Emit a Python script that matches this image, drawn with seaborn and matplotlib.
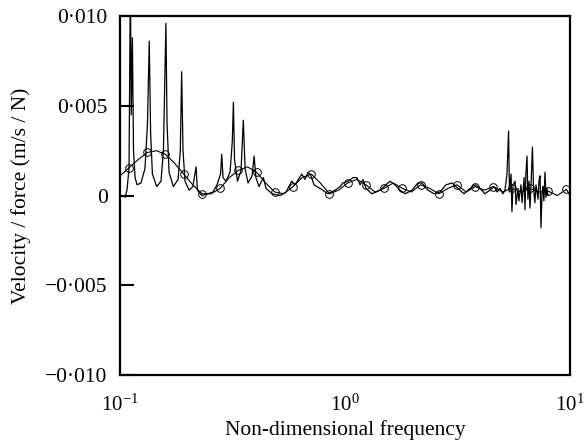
import numpy as np
import pandas as pd
import matplotlib
matplotlib.use("Agg")
import matplotlib.pyplot as plt
import seaborn as sns
from matplotlib.ticker import FixedLocator, FixedFormatter, LogLocator, NullLocator

# ---- measured response (log10 of non-dimensional frequency, velocity/force) ----
meas_logf = [
    -1.000, -0.987, -0.978, -0.969, -0.960, -0.954, -0.950, -0.945, -0.940, -0.933,
    -0.924, -0.907, -0.889, -0.878, -0.870, -0.864, -0.856, -0.837, -0.818, -0.807,
    -0.796, -0.791, -0.782, -0.763, -0.742, -0.732, -0.726, -0.720, -0.711, -0.693,
    -0.676, -0.662, -0.656, -0.636, -0.609, -0.587, -0.569, -0.553, -0.548, -0.542,
    -0.529, -0.511, -0.501, -0.496, -0.491, -0.478, -0.462, -0.452, -0.444, -0.431,
    -0.413, -0.404, -0.396, -0.382, -0.363, -0.351, -0.324, -0.289, -0.262, -0.237,
    -0.222, -0.192, -0.178, -0.164, -0.151, -0.138, -0.111, -0.076, -0.044, -0.022,
    -0.009, 0.013, 0.036, 0.053, 0.067, 0.080, 0.093, 0.120, 0.156, 0.182,
    0.200, 0.222, 0.244, 0.267, 0.298, 0.324, 0.342, 0.369, 0.396, 0.422,
    0.449, 0.476, 0.502, 0.529, 0.556, 0.578, 0.600, 0.622, 0.644, 0.662,
    0.676, 0.689, 0.702, 0.711, 0.720, 0.727, 0.731, 0.738, 0.742, 0.747,
    0.756, 0.760, 0.769, 0.773, 0.782, 0.787, 0.796, 0.800, 0.804, 0.809,
    0.813, 0.818, 0.822, 0.827, 0.833, 0.838, 0.844, 0.849, 0.858, 0.862,
    0.867, 0.871, 0.876, 0.880, 0.884, 0.889, 0.893, 0.898, 0.902,
]
meas_val = [
    0.0000, 0.0000, -0.0001, 0.0003, 0.0015, 0.0120, 0.0045, 0.0088, 0.0025, 0.0010,
    0.0006, 0.0007, 0.0015, 0.0040, 0.0086, 0.0035, 0.0012, 0.0005, 0.0008, 0.0025,
    0.0096, 0.0040, 0.0013, 0.0005, 0.0009, 0.0025, 0.0069, 0.0025, 0.0008, 0.0003,
    0.0005, 0.0016, 0.0003, 0.0000, 0.0001, 0.0002, 0.0006, 0.0012, 0.0023, 0.0010,
    0.0008, 0.0013, 0.0030, 0.0052, 0.0020, 0.0008, 0.0014, 0.0042, 0.0015, 0.0007,
    0.0011, 0.0022, 0.0010, 0.0005, 0.0010, 0.0004, 0.0001, 0.0000, 0.0002, 0.0008,
    0.0006, 0.0012, 0.0009, 0.0013, 0.0011, 0.0006, 0.0004, 0.0001, 0.0003, 0.0005,
    0.0007, 0.0008, 0.0010, 0.0010, 0.0006, 0.0009, 0.0004, 0.0001, 0.0003, 0.0006,
    0.0008, 0.0006, 0.0003, 0.0001, 0.0003, 0.0007, 0.0007, 0.0003, 0.0001, 0.0002,
    0.0006, 0.0007, 0.0004, 0.0001, 0.0004, 0.0006, 0.0004, 0.0001, 0.0003, 0.0005,
    0.0002, 0.0004, 0.0001, 0.0003, 0.0012, 0.0036, 0.0002, 0.0012, -0.0009, 0.0006,
    0.0008, -0.0005, 0.0004, -0.0003, 0.0006, -0.0004, 0.0010, -0.0008, 0.0012, 0.0022,
    -0.0002, 0.0008, -0.0007, 0.0006, 0.0027, 0.0004, -0.0004, 0.0006, -0.0002, 0.0008,
    0.0011, -0.0018, 0.0002, 0.0005, -0.0003, 0.0013, -0.0001, 0.0004, 0.0000,
]

# ---- model prediction (smooth curve with circle markers) ----
model_logf = [-1.0] + list(np.linspace(-0.96, 0.984, 49)) + [1.0]
model_val = [
    0.0011,
    0.00155, 0.0020, 0.0024, 0.0025, 0.0023, 0.0018, 0.0012, 0.0006, 0.0001, 0.0001,
    0.0004, 0.0010, 0.0014, 0.0016, 0.0013, 0.0007, 0.0002, 0.0001, 0.0005, 0.0010,
    0.0012, 0.0007, 0.0001, 0.0003, 0.0007, 0.0009, 0.0006, 0.0002, 0.0004, 0.0007,
    0.0004, 0.0002, 0.0006, 0.0004, 0.0001, 0.0004, 0.0006, 0.0002, 0.0005, 0.0003,
    0.0005, 0.0002, 0.0004, 0.0002, 0.0004, 0.0002, 0.00025, 0.0000, 0.00035,
    0.0000,
]

y_ticks = [-0.010, -0.005, 0.0, 0.005, 0.010]
y_tick_labels = ["\u22120\u00b7010", "\u22120\u00b7005", "0", "0\u00b7005", "0\u00b7010"]

sns.set_theme(style="ticks")
plt.rcParams["font.family"] = ["Liberation Serif", "DejaVu Serif"]
plt.rcParams["mathtext.fontset"] = "stix"
plt.rcParams["text.color"] = "black"
plt.rcParams["axes.labelcolor"] = "black"
plt.rcParams["xtick.color"] = "black"
plt.rcParams["ytick.color"] = "black"

meas = pd.DataFrame({"f": 10 ** np.array(meas_logf), "v": meas_val})
model = pd.DataFrame({"f": 10 ** np.array(model_logf), "v": model_val})

fig = plt.figure(figsize=(5.84, 4.47), dpi=100)
ax = fig.add_axes([0.2055, 0.161, 0.7705, 0.803])
ax.set_xscale("log")

sns.lineplot(data=meas, x="f", y="v", ax=ax, color="black", linewidth=0.9,
             estimator=None, sort=False)
sns.lineplot(data=model, x="f", y="v", ax=ax, color="black", linewidth=0.8,
             estimator=None, sort=False, marker="o", markersize=5.5,
             markerfacecolor="none", markeredgecolor="black", markeredgewidth=0.7,
             markevery=(1, 2))

ax.set_xlim(0.1, 10)
ax.set_ylim(-0.010, 0.010)
ax.yaxis.set_major_locator(FixedLocator(y_ticks))
ax.yaxis.set_major_formatter(FixedFormatter(y_tick_labels))
ax.xaxis.set_major_locator(LogLocator(base=10, numticks=5))
ax.xaxis.set_minor_locator(NullLocator())

ax.tick_params(axis="y", direction="in", length=10, width=1.5, labelsize=15.5, pad=9,
               colors="black")
ax.tick_params(axis="x", direction="in", length=0, labelsize=15, pad=14, colors="black")
for s in ax.spines.values():
    s.set_linewidth(1.6)
    s.set_color("black")

ax.set_xlabel("Non-dimensional frequency", fontsize=15.5, labelpad=3, color="black")
ax.set_ylabel("Velocity / force (m/s / N)", fontsize=15.5, labelpad=10, color="black")

fig.savefig("out.png", dpi=100)
